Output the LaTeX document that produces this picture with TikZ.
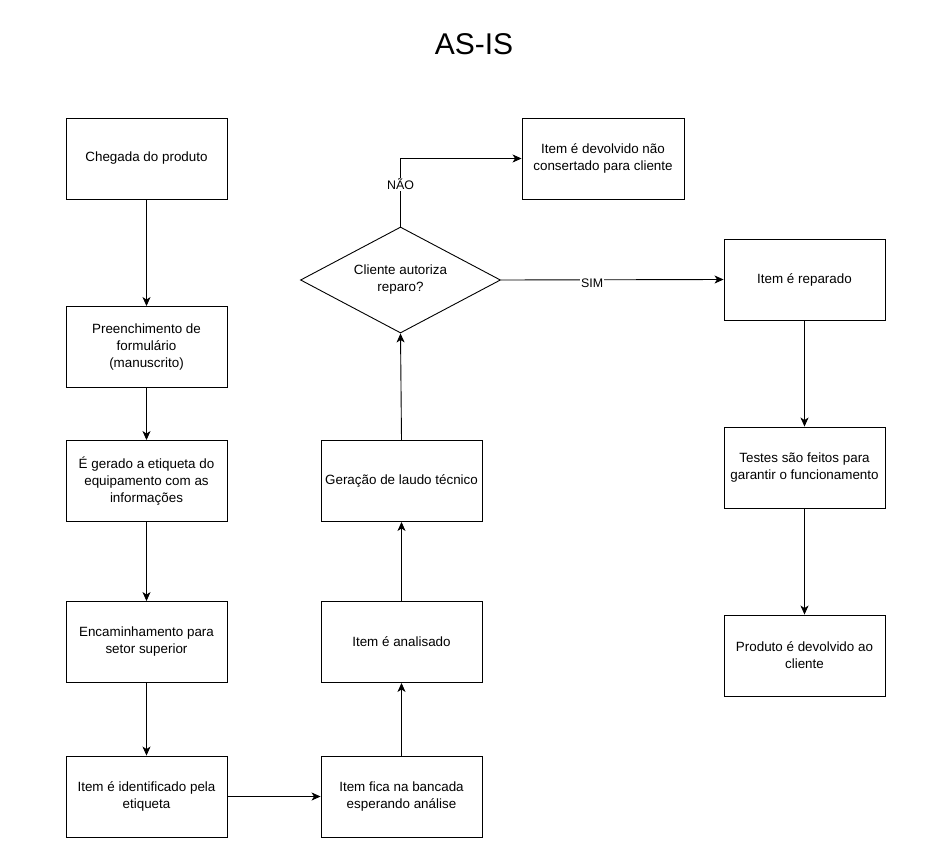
\documentclass[tikz,border=0pt]{standalone}
\usepackage{fontspec}
\setmainfont{Liberation Sans}
\usetikzlibrary{positioning, arrows.meta, shapes.geometric}

\begin{document}
\begin{tikzpicture}[x=1pt, y=-1pt,
        procbox/.style={draw=black, line width=0.9pt, fill=white,
            minimum width=161pt, minimum height=81pt, inner sep=2pt,
            align=center, font=\fontsize{13.4}{17}\selectfont},
        decisao/.style={draw=black, line width=0.9pt, fill=white, diamond,
            shape aspect=2, minimum width=200pt, minimum height=106pt,
            inner sep=0pt, align=center, font=\fontsize{13.4}{17}\selectfont},
        fluxo/.style={draw=black, line width=0.9pt,
            -{Stealth[length=9pt, width=8pt, inset=2.5pt]}},
        rotulo/.style={fill=white, inner sep=1pt, font=\fontsize{12.4}{14}\selectfont}
    ]
    \useasboundingbox (0, 0) rectangle (933, 867);
    \node[font=\fontsize{30}{34}\selectfont] (titulo) at (474, 44) {AS-IS};

    \node[procbox] (chegada) at (146.5, 158.5) {Chegada do produto};
    \node[procbox] (formulario) at (146.5, 347) {Preenchimento de\\formulário\\(manuscrito)};
    \node[procbox] (etiqueta) at (146.5, 481) {É gerado a etiqueta do\\equipamento com as\\informações};
    \node[procbox] (encaminha) at (146.5, 642) {Encaminhamento para\\setor superior};
    \node[procbox] (identifica) at (146.5, 796.5) {Item é identificado pela\\etiqueta};

    \node[procbox] (bancada) at (401.5, 796.5) {Item fica na bancada\\esperando análise};
    \node[procbox] (analise) at (401.5, 642) {Item é analisado};
    \node[procbox] (laudo) at (401.5, 481) {Geração de laudo técnico};
    \node[decisao] (autoriza) at (400.5, 280) {Cliente autoriza\\reparo?};
    \node[procbox, minimum width=162pt] (naoconserto) at (603, 158.5) {Item é devolvido não\\consertado para cliente};

    \node[procbox] (reparo) at (804.5, 279.5) {Item é reparado};
    \node[procbox] (testes) at (804.5, 467.5) {Testes são feitos para\\garantir o funcionamento};
    \node[procbox] (devolvido) at (804.5, 655.5) {Produto é devolvido ao\\cliente};

    \draw[fluxo] (chegada) -- (formulario);
    \draw[fluxo] (formulario) -- (etiqueta);
    \draw[fluxo] (etiqueta) -- (encaminha);
    \draw[fluxo] (encaminha) -- (identifica);
    \draw[fluxo] (identifica) -- (bancada);
    \draw[fluxo] (bancada) -- (analise);
    \draw[fluxo] (analise) -- (laudo);
    \draw[fluxo] (laudo.north) -- (autoriza.south);
    \draw[fluxo] (autoriza.north) |- node[rotulo, pos=0.31] {NÃO} (naoconserto.west);
    \draw[fluxo] (autoriza.east) -- node[rotulo, pos=0.41, yshift=-3pt] {SIM} (reparo.west);
    \draw[fluxo] (reparo) -- (testes);
    \draw[fluxo] (testes) -- (devolvido);
\end{tikzpicture}
\end{document}
